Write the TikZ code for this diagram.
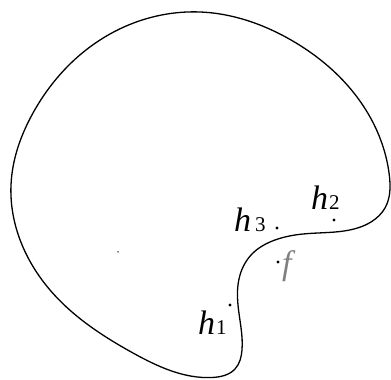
\documentclass[tikz,border=0pt]{standalone}
\usepackage{fontspec}
\setmainfont{Liberation Serif}
\newfontfamily\tmfont{Liberation Serif}
\usetikzlibrary{hobby}
\begin{document}
\begin{tikzpicture}[x=1pt,y=1pt,
  lbl/.style={inner sep=0pt,anchor=base west,font=\tmfont\fontsize{34}{36}\selectfont\itshape},
  pt/.style={circle,fill=black,inner sep=0pt,minimum size=3.2pt}]
\newcommand{\sbs}[1]{{\fontsize{21}{22}\selectfont\upshape #1}}
\useasboundingbox (0,0) rectangle (391,380);
\draw[line width=1.3pt,use Hobby shortcut,closed=true]
  (200,368) .. (291,340) .. (364,273) .. (389.3,205) .. (385,172) ..
  (371,158) .. (344,149) .. (303,146) .. (275,140) .. (252,126) ..
  (240,105) .. (238,75) .. (242,30) .. (235,11) .. (212,2.5) ..
  (133,27) .. (50,90) .. (11,195) .. (33,267) .. (100,340);
\node[lbl] (h2) at (311,170) {h\kern1pt\sbs{2}};
\node[pt] (d2) at (334,160) {};
\node[lbl] (h3) at (234,148) {h\kern4pt\sbs{3}};
\node[pt] (d3) at (277,152) {};
\node[pt] (df) at (278,118) {};
\node[lbl,text=gray] (f) at (282,105) {f};
\node[lbl] (h1) at (198,45) {h\kern1pt\sbs{1}};
\node[pt] (d1) at (230,75) {};
\node[circle,fill=black,inner sep=0pt,minimum size=1.5pt] (d0) at (118,128) {};
\end{tikzpicture}
\end{document}
